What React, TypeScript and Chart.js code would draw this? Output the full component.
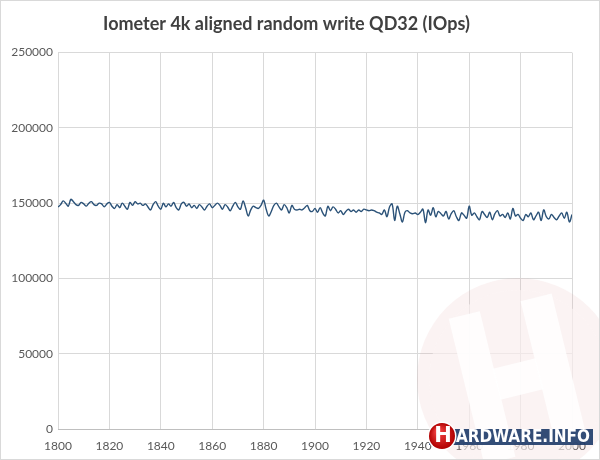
import React, { useEffect, useRef } from "react";
import { Chart, registerables } from "chart.js";

Chart.register(...registerables);

const TITLE = "Iometer 4k aligned random write QD32 (IOps)";
const START_YEAR = 1800;
const X_MIN = 1800;
const X_MAX = 2000;
const X_STEP = 20;
const Y_MIN = 0;
const Y_MAX = 250000;
const Y_STEP = 50000;

// IOps per step, 1800 .. 2000
const IOPS: number[] = [
  // 1800-1824
  147500, 149000, 151500, 150000, 148000, 152500, 151000, 149000, 148500, 150500,
  149500, 148000, 150000, 151000, 149000, 148500, 150000, 149500, 147500, 149500,
  150500, 148000, 146500, 149000, 147000,
  // 1825-1849
  150000, 148000, 146000, 150500, 148500, 151000, 149500, 150000, 148500, 149500,
  147500, 145500, 149000, 151000, 148000, 146000, 150000, 147500, 149500, 148000,
  150500, 147000, 145500, 149500, 150500,
  // 1850-1874
  148000, 149500, 147000, 148500, 146500, 149000, 147500, 145500, 148000, 149500,
  147000, 148500, 150000, 148500, 146000, 149000, 147500, 145000, 148000, 150500,
  147500, 146000, 151500, 147000, 141500,
  // 1875-1899
  145500, 148000, 147000, 146500, 148500, 152000, 146000, 141500, 144500, 148500,
  150000, 147500, 145500, 149000, 147000, 143500, 148500, 146000, 145500, 146000,
  145500, 147000, 148500, 145000, 144500,
  // 1900-1924
  146500, 144000, 147000, 143500, 141500, 148000, 145000, 147500, 146000, 143500,
  145000, 142500, 144500, 146000, 144500, 145500, 144000, 145500, 144500, 146000,
  145500, 145000, 145500, 145000, 144000,
  // 1925-1949
  143500, 142500, 145500, 141000, 147500, 149500, 138500, 148000, 143000, 137500,
  144000, 145000, 143500, 143000, 143500, 142500, 144000, 146000, 137000, 145500,
  142000, 147000, 141000, 144500, 143000,
  // 1950-1974
  141500, 144500, 139500, 143000, 145000, 141000, 138500, 143500, 142000, 140000,
  148000, 142000, 143500, 141000, 139000, 144500, 142500, 140500, 144000, 139000,
  143000, 145000, 141500, 142500, 140500,
  // 1975-2000
  143500, 139500, 146500, 141500, 142500, 140000, 138500, 142500, 141000, 143500,
  139000, 141500, 144000, 138500, 145500, 141000, 139500, 142500, 140500, 139000,
  141500, 143500, 140000, 144000, 137500, 142500,
];

const LOGO_TEXT = "ARDWARE.INFO";
const LOGO_INITIAL = "H";

const watermarkPlugin = {
  id: "watermark",
  beforeDatasetsDraw(chart: any) {
    const ctx = chart.ctx as CanvasRenderingContext2D;
    ctx.save();
    const cx = 517;
    const cy = 378;
    ctx.beginPath();
    ctx.arc(cx, cy, 101, 0, Math.PI * 2);
    ctx.fillStyle = "rgba(225, 160, 160, 0.13)";
    ctx.fill();
    ctx.beginPath();
    ctx.arc(cx, cy, 89, 0, Math.PI * 2);
    ctx.fillStyle = "rgba(255, 255, 255, 0.6)";
    ctx.fill();
    ctx.beginPath();
    ctx.arc(cx, cy, 89, 0, Math.PI * 2);
    ctx.fillStyle = "rgba(235, 190, 190, 0.1)";
    ctx.fill();
    ctx.translate(cx, cy);
    ctx.rotate(-0.24);
    ctx.fillStyle = "rgba(255, 255, 255, 0.85)";
    const sw = 32;
    const sh = 150;
    const gap = 42;
    ctx.fillRect(-gap / 2 - sw, -sh / 2, sw, sh);
    ctx.fillRect(gap / 2, -sh / 2, sw, sh);
    ctx.fillRect(-gap / 2 - 1, -16, gap + 2, 32);
    ctx.restore();
  },
  afterDraw(chart: any) {
    const ctx = chart.ctx as CanvasRenderingContext2D;
    ctx.save();
    ctx.globalAlpha = 0.9;
    ctx.fillStyle = "#1d3a68";
    ctx.fillRect(428, 428, 164, 16);
    ctx.globalAlpha = 1;
    ctx.fillStyle = "#ffffff";
    ctx.font = "bold 17px 'DejaVu Sans'";
    ctx.textBaseline = "middle";
    ctx.textAlign = "left";
    ctx.fillText(LOGO_TEXT, 455, 436.5, 134);
    const bx = 441;
    const by = 435;
    ctx.beginPath();
    ctx.arc(bx, by, 14.5, 0, Math.PI * 2);
    ctx.fillStyle = "#ffffff";
    ctx.fill();
    const g = ctx.createRadialGradient(bx - 4, by - 5, 2, bx, by, 13);
    g.addColorStop(0, "#f04040");
    g.addColorStop(1, "#b00000");
    ctx.beginPath();
    ctx.arc(bx, by, 13, 0, Math.PI * 2);
    ctx.fillStyle = g;
    ctx.fill();
    ctx.fillStyle = "#ffffff";
    ctx.font = "bold 21px 'DejaVu Sans'";
    ctx.textAlign = "center";
    ctx.fillText(LOGO_INITIAL, bx + 1, by + 1);
    ctx.restore();
  },
};

export default function App() {
  const ref = useRef<HTMLCanvasElement | null>(null);

  useEffect(() => {
    if (!ref.current) return;
    const points = IOPS.map((v, i) => ({ x: START_YEAR + i, y: v }));
    const tickFont = { family: "Lato", size: 12 };
    const chart = new Chart(ref.current, {
      type: "line",
      data: {
        datasets: [
          {
            label: "IOps",
            data: points,
            borderColor: "#2b5278",
            borderWidth: 1.4,
            pointRadius: 0,
            tension: 0.35,
            fill: false,
          },
        ],
      },
      options: {
        animation: false,
        responsive: false,
        maintainAspectRatio: false,
        parsing: false as any,
        layout: { padding: { left: 0, right: 27, top: 0, bottom: 0 } },
        plugins: {
          legend: { display: false },
          tooltip: { enabled: false },
          title: {
            display: true,
            text: TITLE,
            color: "#404040",
            font: { family: "Lato", size: 18, weight: "bold" },
            padding: { top: 12, bottom: 18 },
          },
        },
        scales: {
          x: {
            type: "linear",
            min: X_MIN,
            max: X_MAX,
            ticks: {
              stepSize: X_STEP,
              color: "#595959",
              font: tickFont,
              padding: 10,
              maxRotation: 0,
              callback: (v: any) => String(v),
            },
            grid: { color: "#d9d9d9", drawTicks: false },
            border: { color: "#bfbfbf" },
            afterFit: (s: any) => {
              s.height = 30;
            },
          },
          y: {
            min: Y_MIN,
            max: Y_MAX,
            ticks: {
              stepSize: Y_STEP,
              color: "#595959",
              font: tickFont,
              padding: 5,
              callback: (v: any) => String(v),
            },
            grid: { color: "#d9d9d9", drawTicks: false },
            border: { display: false },
            afterFit: (s: any) => {
              s.width = 57;
            },
          },
        },
      },
      plugins: [watermarkPlugin],
    });
    return () => chart.destroy();
  }, []);

  return (
    <div
      style={{
        position: "fixed",
        left: 0,
        top: 0,
        width: 600,
        height: 460,
        background: "#ffffff",
        border: "1px solid #d9d9d9",
        boxSizing: "border-box",
        overflow: "hidden",
      }}
    >
      <canvas
        ref={ref}
        width={598}
        height={458}
        style={{ display: "block", width: 598, height: 458 }}
      />
    </div>
  );
}
